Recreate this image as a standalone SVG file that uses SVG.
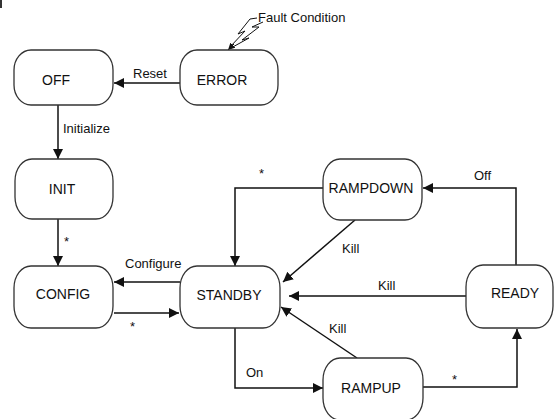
<svg xmlns="http://www.w3.org/2000/svg" width="555" height="419" viewBox="0 0 555 419">
<defs>
<marker id="ah" markerWidth="11" markerHeight="11" refX="10" refY="5" orient="auto" markerUnits="userSpaceOnUse">
<path d="M0,0 L10,5 L0,10 z" fill="#111"/>
</marker>
<marker id="ahs" markerWidth="8" markerHeight="8" refX="7" refY="3.5" orient="auto" markerUnits="userSpaceOnUse">
<path d="M0,0 L7,3.5 L0,7 z" fill="#111"/>
</marker>
</defs>
<style>
.node rect{fill:#fff;stroke:#333;stroke-width:1.3}
.node text{font-family:"Liberation Sans",Arial,sans-serif;font-size:14px;fill:#111;text-anchor:middle}
.lbl{font-family:"Liberation Sans",Arial,sans-serif;font-size:13px;fill:#111}
#edges path{fill:none;stroke:#111;stroke-width:1.5;marker-end:url(#ah)}
#edges .bolt{stroke-width:1;marker-end:none}
</style>
<rect x="0" y="0" width="2" height="8" fill="#333"/>
<g id="edges">
<path d="M180,83 H114"/>
<path d="M58,105 V159"/>
<path d="M58,219 V266"/>
<path d="M180,282 H114"/>
<path d="M114,313 H179"/>
<path d="M323,188 H235 V266"/>
<path d="M355,220 L283,282"/>
<path d="M466,296 H289"/>
<path d="M357,358 L281,307"/>
<path d="M235,328 V388 H323"/>
<path d="M423,387 H517 V329"/>
<path d="M516,265 V188 H423"/>
<path class="bolt" d="M257,18 L250,19 L238,34 L245,31 L230,47"/>
<path class="bolt" d="M263,22 L252,27 L259,27 L242,40 L249,38 L231,48"/>
<path d="M234,44 L228,50" style="stroke-width:1;marker-end:url(#ahs)"/>
<text class="lbl" x="133" y="78">Reset</text>
<text class="lbl" x="258" y="22">Fault Condition</text>
<text class="lbl" x="63" y="133">Initialize</text>
<text class="lbl" x="64" y="246">*</text>
<text class="lbl" x="125" y="268">Configure</text>
<text class="lbl" x="130" y="331">*</text>
<text class="lbl" x="259" y="178">*</text>
<text class="lbl" x="342" y="253">Kill</text>
<text class="lbl" x="474" y="180">Off</text>
<text class="lbl" x="378" y="290">Kill</text>
<text class="lbl" x="329" y="333">Kill</text>
<text class="lbl" x="246" y="377">On</text>
<text class="lbl" x="452" y="384">*</text>
</g>
<g id="OFF" class="node"><rect x="14" y="50" width="99" height="55" rx="17" ry="20"/><text x="56" y="85">OFF</text></g>
<g id="ERROR" class="node"><rect x="180" y="50" width="98" height="55" rx="17" ry="20"/><text x="222" y="85">ERROR</text></g>
<g id="INIT" class="node"><rect x="15" y="159" width="98" height="60" rx="17" ry="22"/><text x="62" y="194">INIT</text></g>
<g id="CONFIG" class="node"><rect x="14" y="266" width="99" height="62" rx="17" ry="22"/><text x="63" y="299">CONFIG</text></g>
<g id="STANDBY" class="node"><rect x="180" y="266" width="100" height="62" rx="17" ry="22"/><text x="229" y="300">STANDBY</text></g>
<g id="RAMPDOWN" class="node"><rect x="323" y="159" width="99" height="61" rx="17" ry="22"/><text x="371" y="193">RAMPDOWN</text></g>
<g id="READY" class="node"><rect x="466" y="265" width="87" height="63" rx="17" ry="22"/><text x="515" y="298">READY</text></g>
<g id="RAMPUP" class="node"><rect x="323" y="358" width="100" height="62" rx="17" ry="22"/><text x="371" y="393">RAMPUP</text></g>
</svg>
